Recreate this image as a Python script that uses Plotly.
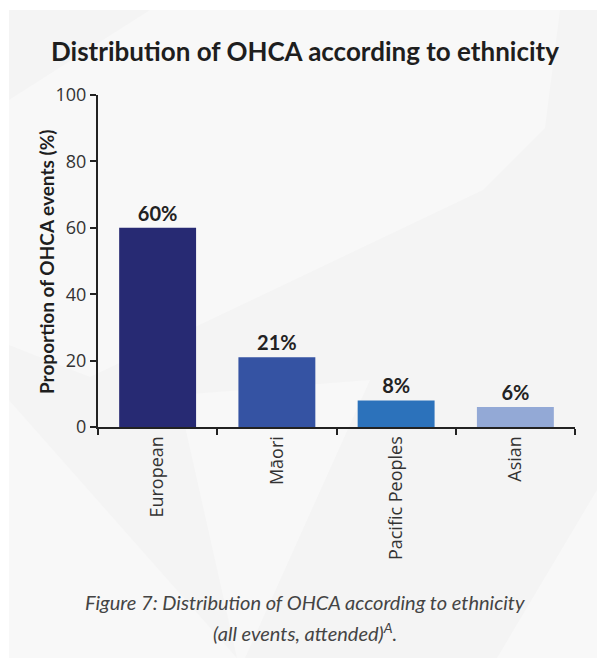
import plotly.graph_objects as go

# Data
categories = ["European", "Māori", "Pacific Peoples", "Asian"]
proportions = [60, 21, 8, 6]
bar_colors = ["#272a73", "#3553a3", "#2c72bb", "#93a9d6"]
y_ticks = [0, 20, 40, 60, 80, 100]

W, H = 597, 658
M_L, M_R, M_T, M_B = 98, 22, 95, 231
PLOT_W = W - M_L - M_R
PLOT_H = H - M_T - M_B


def px_x(x):
    return (x - M_L) / PLOT_W


def px_y(y):
    return (H - M_B - y) / PLOT_H


def facet(points, color):
    path = "M " + " L ".join(f"{px_x(x):.4f},{px_y(y):.4f}" for x, y in points) + " Z"
    return dict(type="path", xref="paper", yref="paper", path=path,
                fillcolor=color, line=dict(width=0), layer="below")


BASE = "#f4f4f4"
LIGHT = "#f8f8f8"

shapes = [
    # white border strips at top and left of the panel
    dict(type="rect", xref="paper", yref="paper", x0=px_x(0), x1=px_x(W),
         y0=px_y(10), y1=px_y(0), fillcolor="white", line=dict(width=0), layer="below"),
    dict(type="rect", xref="paper", yref="paper", x0=px_x(0), x1=px_x(9),
         y0=px_y(H), y1=px_y(0), fillcolor="white", line=dict(width=0), layer="below"),
    # faint faceted background
    facet([(150, 10), (560, 10), (545, 128), (483, 190), (90, 377), (9, 345), (9, 100)], LIGHT),
    facet([(9, 400), (237, 658), (9, 658)], LIGHT),
    facet([(178, 395), (370, 380), (245, 658), (237, 658)], LIGHT),
    facet([(597, 490), (497, 658), (597, 658)], LIGHT),
]

fig = go.Figure(
    go.Bar(
        x=categories,
        y=proportions,
        marker=dict(color=bar_colors, line=dict(width=0)),
        width=0.645,
        texttemplate="%{y}%",
        textposition="outside",
        textfont=dict(family="Lato", size=20, color="#222222", weight="bold"),
        cliponaxis=False,
        hoverinfo="skip",
    )
)

fig.update_layout(
    width=W,
    height=H,
    margin=dict(l=M_L, r=M_R, t=M_T, b=M_B, pad=0),
    paper_bgcolor=BASE,
    plot_bgcolor="rgba(0,0,0,0)",
    showlegend=False,
    shapes=shapes,
    title=dict(
        text="<b>Distribution of OHCA according to ethnicity</b>",
        x=305 / W, xanchor="center", xref="container",
        y=1 - 52 / H, yanchor="middle", yref="container",
        font=dict(family="Lato", size=26, color="#1e1e1e"),
    ),
    font=dict(family="Open Sans", color="#333333"),
)

fig.update_xaxes(
    type="category",
    range=[-0.5, len(categories) - 0.5],
    showline=True, linecolor="#222222", linewidth=2,
    ticks="outside", tickson="boundaries", ticklen=6, tickwidth=2, tickcolor="#222222",
    tickangle=-90,
    tickfont=dict(family="Open Sans", size=18, color="#333333"),
    showgrid=False, zeroline=False,
)
fig.update_yaxes(
    range=[0, 100],
    tickvals=y_ticks,
    showline=True, linecolor="#222222", linewidth=2,
    ticks="outside", ticklen=6, tickwidth=2, tickcolor="#222222",
    tickfont=dict(family="Open Sans", size=18, color="#333333"),
    showgrid=False, zeroline=False,
)

# Y-axis title
fig.add_annotation(
    text="<b>Proportion of OHCA events (%)</b>",
    xref="paper", yref="paper", x=px_x(46), y=px_y(262),
    xanchor="center", yanchor="middle", textangle=-90, showarrow=False,
    font=dict(family="Lato", size=19, color="#1e1e1e"),
)

# Figure caption
fig.add_annotation(
    text="<i>Figure 7: Distribution of OHCA according to ethnicity</i>",
    xref="paper", yref="paper", x=px_x(305), y=px_y(602),
    xanchor="center", yanchor="middle", showarrow=False,
    font=dict(family="Lato", size=20, color="#444444"),
)
fig.add_annotation(
    text="<i>(all events, attended)<sup>A</sup>.</i>",
    xref="paper", yref="paper", x=px_x(305), y=px_y(632),
    xanchor="center", yanchor="middle", showarrow=False,
    font=dict(family="Lato", size=20, color="#444444"),
)

fig.write_html("out.html")
